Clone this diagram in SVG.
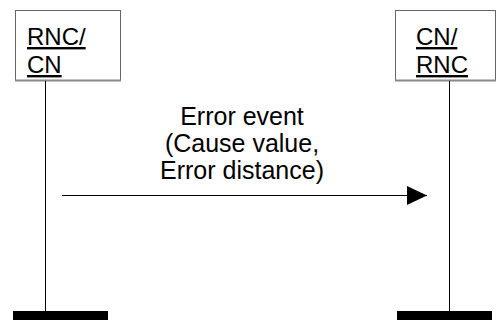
<svg xmlns="http://www.w3.org/2000/svg" width="496" height="320" viewBox="0 0 496 320">
<style>
.box{fill:#fff;stroke:#666;stroke-width:1}
.sh{stroke:#888;stroke-width:2}
.t{font-family:"Liberation Sans",Arial,sans-serif;font-size:24px;fill:#000}
.m{font-size:25px}
.u{text-decoration:underline}
.life{stroke:#000;stroke-width:1}
.bar{fill:#000}
</style>
<defs>
<marker id="ah" markerWidth="20" markerHeight="19" refX="20" refY="9.5" orient="auto" markerUnits="userSpaceOnUse">
<path d="M0,0 L20,9.5 L0,19 Z" fill="#000"/>
</marker>
</defs>
<g id="node-rnc-cn">
<rect class="box" x="15.5" y="10.5" width="105" height="70"/>
<line class="sh" x1="15" y1="80.5" x2="121" y2="80.5"/>
<text class="t u" x="27" y="45">RNC/</text>
<text class="t u" x="27" y="73">CN</text>
<line class="life" x1="45.5" y1="81" x2="45.5" y2="311"/>
<rect class="bar" x="13" y="311" width="95" height="9"/>
</g>
<g id="node-cn-rnc">
<rect class="box" x="395.5" y="10.5" width="100" height="70"/>
<line class="sh" x1="395" y1="80.5" x2="496" y2="80.5"/>
<text class="t u" x="416" y="45">CN/</text>
<text class="t u" x="416" y="73">RNC</text>
<line class="life" x1="449.5" y1="81" x2="449.5" y2="311"/>
<rect class="bar" x="397" y="311" width="95" height="9"/>
</g>
<g id="connectors">
<line x1="62" y1="195.5" x2="427" y2="195.5" stroke="#000" stroke-width="1" marker-end="url(#ah)"/>
<text class="t m" text-anchor="middle" x="242" y="125">Error event</text>
<text class="t m" text-anchor="middle" x="242" y="152">(Cause value,</text>
<text class="t m" text-anchor="middle" x="242" y="179">Error distance)</text>
</g>
</svg>
